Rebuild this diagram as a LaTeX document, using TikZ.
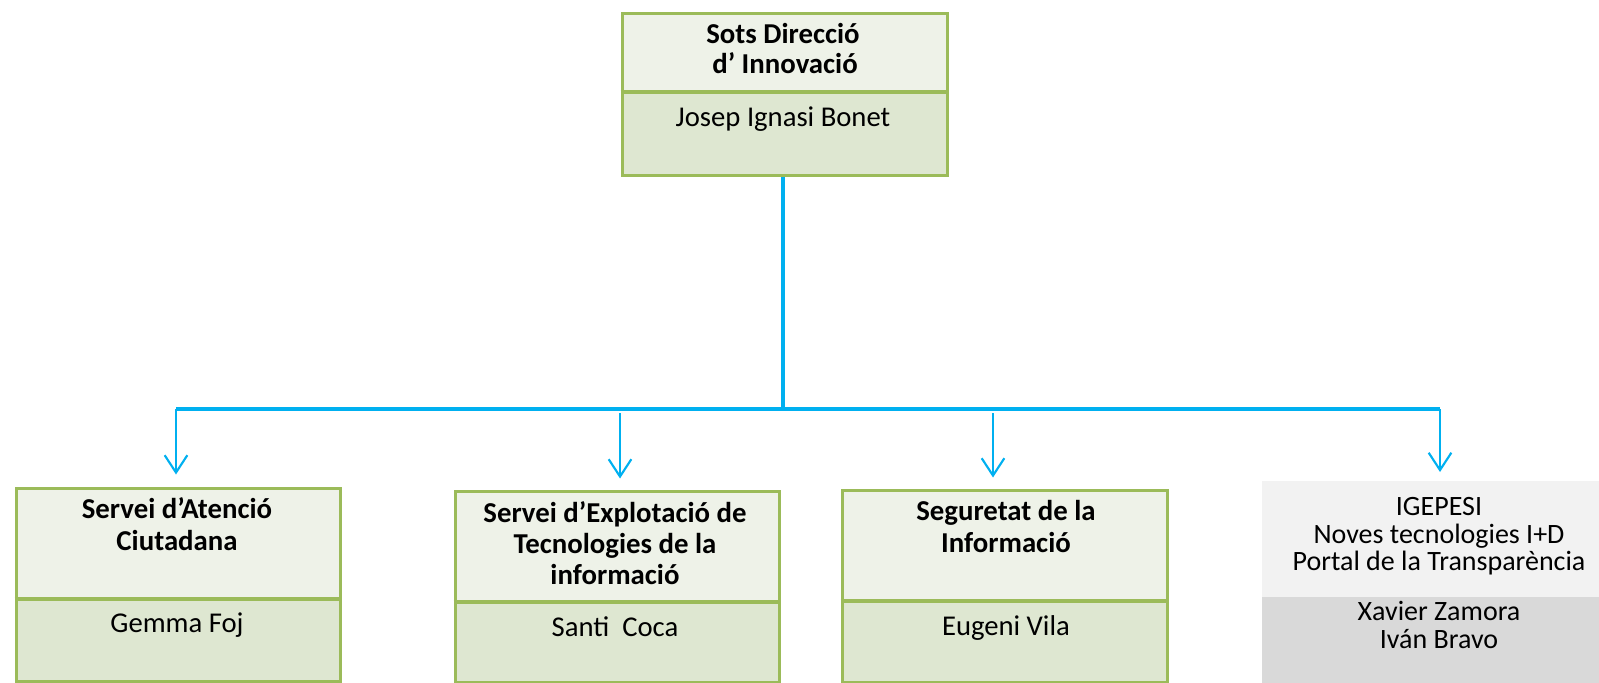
\documentclass[tikz,border=0pt]{standalone}
\usepackage{fontspec}
\setmainfont{Carlito}
\usetikzlibrary{arrows.meta}
\definecolor{gborder}{HTML}{9BBB59}
\definecolor{gtop}{HTML}{EEF2E8}
\definecolor{gbot}{HTML}{DEE7D1}
\definecolor{ytop}{HTML}{F2F2F2}
\definecolor{ybot}{HTML}{D9D9D9}
\definecolor{lineblue}{HTML}{00B0F0}
\tikzset{
  hd/.style={anchor=base, font=\fontsize{21.6}{24}\selectfont\bfseries, inner sep=0pt},
  nm/.style={anchor=base, font=\fontsize{21.5}{24}\selectfont, inner sep=0pt},
  gm/.style={anchor=base, font=\fontsize{21}{24}\selectfont, inner sep=0pt},
  conn/.style={draw=lineblue, line width=2.3pt},
  arr/.style={draw=lineblue, line width=1.6pt, -{Straight Barb[length=13pt, width=17pt, line width=1.6pt]}},
  greenframe/.style={draw=gborder, line width=2.6pt},
}
\begin{document}
\begin{tikzpicture}[x=0.75pt, y=-0.75pt]
\useasboundingbox (0,0) rectangle (1599,682);
% top box
\fill[gtop] (620.5,11.5) rectangle (945.5,92);
\fill[gbot] (620.5,92) rectangle (945.5,173.5);
\draw[greenframe] (620.5,92) -- (945.5,92);
\node[greenframe, anchor=north west, minimum width=325*0.75pt, minimum height=162*0.75pt, inner sep=0pt] (top) at (620.5,11.5) {};
\node[hd] (t1) at (783,43) {Sots Direcció};
\node[hd] (t2) at (785,73) {d’ Innovació};
\node[nm] (t3) at (783,126) {Josep Ignasi Bonet};
% box 1
\fill[gtop] (14.5,486.5) rectangle (338.5,599);
\fill[gbot] (14.5,599) rectangle (338.5,679.5);
\draw[greenframe] (14.5,599) -- (338.5,599);
\node[greenframe, anchor=north west, minimum width=324*0.75pt, minimum height=193*0.75pt, inner sep=0pt] (b1) at (14.5,486.5) {};
\node[hd] (b1a) at (177,518) {Servei d’Atenció};
\node[hd] (b1b) at (177,550) {Ciutadana};
\node[nm] (b1c) at (177,632) {Gemma Foj};
% box 2
\fill[gtop] (453.5,489.5) rectangle (777.5,602);
\fill[gbot] (453.5,602) rectangle (777.5,680.5);
\draw[greenframe] (453.5,602) -- (777.5,602);
\node[greenframe, anchor=north west, minimum width=324*0.75pt, minimum height=191*0.75pt, inner sep=0pt] (b2) at (453.5,489.5) {};
\node[hd] (b2a) at (615,522) {Servei d’Explotació de};
\node[hd] (b2b) at (615,553) {Tecnologies de la};
\node[hd] (b2c) at (615,584) {informació};
\node[nm] (b2d) at (615,636) {Santi\ \ Coca};
% box 3
\fill[gtop] (840.5,488.5) rectangle (1165.5,601);
\fill[gbot] (840.5,601) rectangle (1165.5,680.5);
\draw[greenframe] (840.5,601) -- (1165.5,601);
\node[greenframe, anchor=north west, minimum width=325*0.75pt, minimum height=192*0.75pt, inner sep=0pt] (b3) at (840.5,488.5) {};
\node[hd] (b3a) at (1006,520) {Seguretat de la};
\node[hd] (b3b) at (1006,552) {Informació};
\node[nm] (b3c) at (1006,635) {Eugeni Vila};
% box 4 (gray, no frame)
\fill[ytop] (1262,481) rectangle (1616,597);
\fill[ybot] (1262,597) rectangle (1616,690);
\node[anchor=north west, minimum width=354*0.75pt, minimum height=201*0.75pt, inner sep=0pt] (b4) at (1262,481) {};
\node[gm] (b4a) at (1439,515) {IGEPESI};
\node[gm] (b4b) at (1439,543) {Noves tecnologies I+D};
\node[gm] (b4c) at (1439,570) {Portal de la Transparència};
\node[gm] (b4d) at (1439,620) {Xavier Zamora};
\node[gm] (b4e) at (1439,648) {Iván Bravo};
% connectors
\coordinate (j) at (783,409);
\coordinate (jl) at (176,409);
\coordinate (jr) at (1440,409);
\coordinate (s2) at (620,413);
\coordinate (s3) at (993,413);
\draw[conn] (j |- top.south) -- (j);
\draw[conn] (jl) -- (jr);
\draw[arr, shorten >=12*0.75pt] (jl) -- (jl |- b1.north);
\draw[arr, shorten >=11*0.75pt] (s2) -- (s2 |- b2.north);
\draw[arr, shorten >=11*0.75pt] (s3) -- (s3 |- b3.north);
\draw[arr, shorten >=9*0.75pt] (jr) -- (jr |- b4.north);
\end{tikzpicture}
\end{document}
